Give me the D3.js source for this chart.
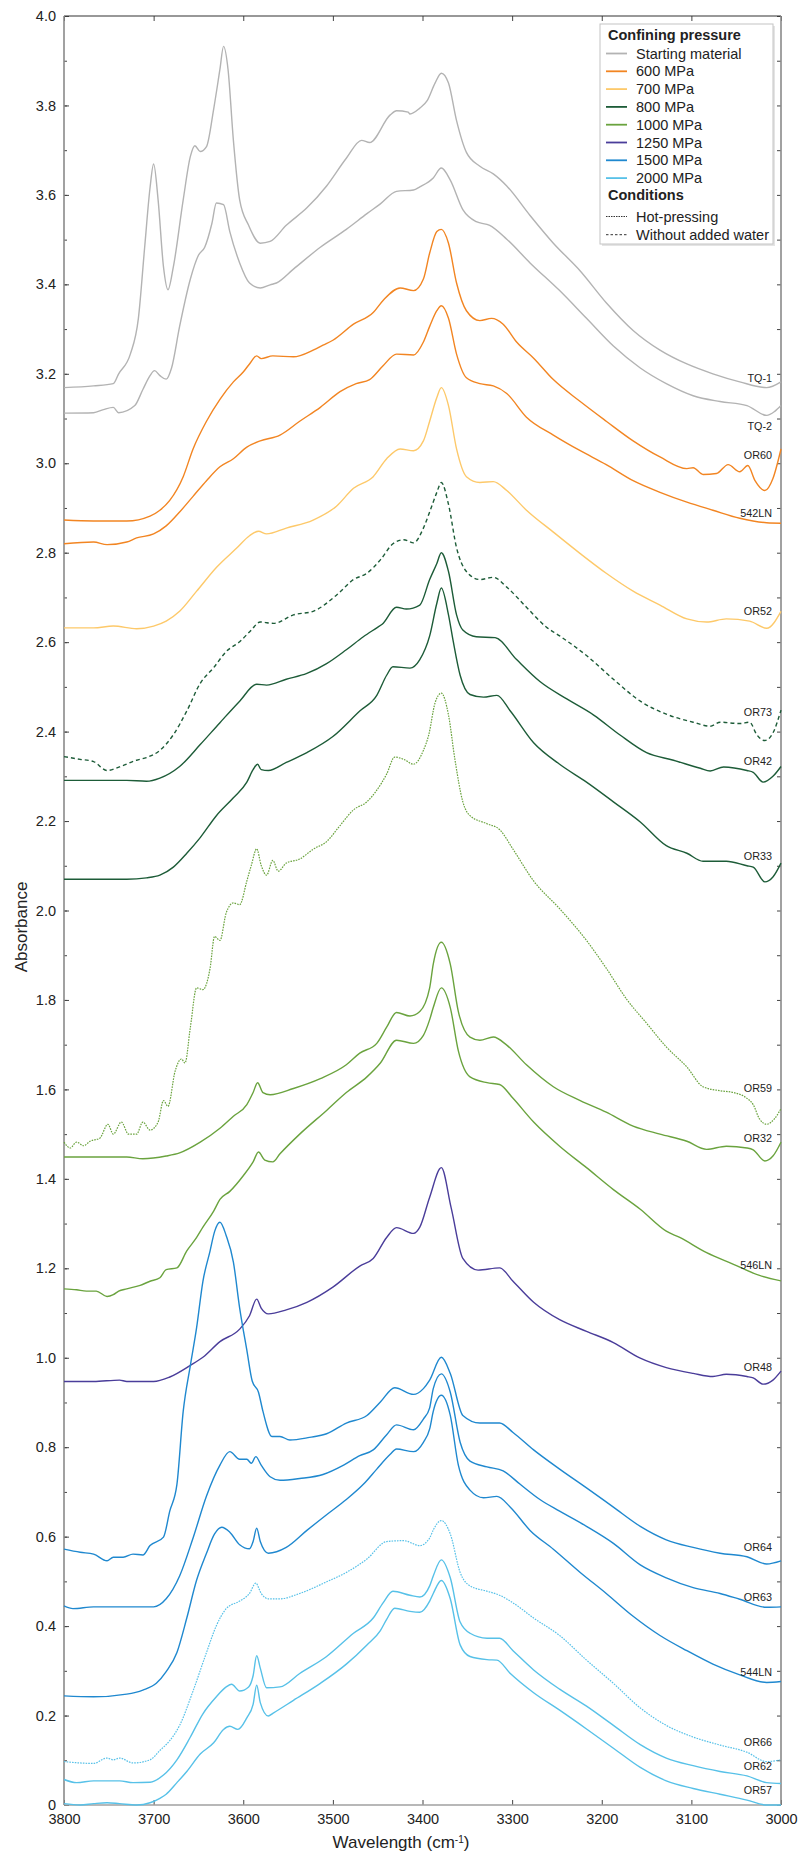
<!DOCTYPE html>
<html>
<head>
<meta charset="utf-8">
<script src="https://cdn.jsdelivr.net/npm/d3@7"></script>
<style>
  body { margin: 0; background: #fff; }
  svg { display: block; font-family: "Liberation Sans", Arial, sans-serif; }
</style>
</head>
<body>
<svg id="chart" width="802" height="1854"></svg>
<script>
// spectra as [wavenumber (cm-1), absorbance]
const tq1 = [[3800,3.169],[3767,3.173],[3745,3.178],[3739,3.200],[3726,3.244],[3717,3.324],[3710,3.483],[3704,3.616],[3700,3.669],[3695,3.589],[3689,3.439],[3684,3.388],[3678,3.439],[3667,3.589],[3659,3.686],[3654,3.710],[3648,3.697],[3641,3.708],[3633,3.792],[3626,3.881],[3622,3.932],[3617,3.881],[3611,3.722],[3604,3.589],[3594,3.532],[3581,3.492],[3570,3.496],[3552,3.532],[3529,3.571],[3507,3.620],[3485,3.682],[3468,3.722],[3459,3.717],[3436,3.779],[3429,3.788],[3416,3.785],[3414,3.781],[3403,3.794],[3395,3.810],[3386,3.850],[3379,3.872],[3371,3.850],[3362,3.766],[3351,3.695],[3336,3.664],[3321,3.647],[3306,3.620],[3280,3.554],[3254,3.492],[3224,3.430],[3195,3.359],[3165,3.297],[3135,3.253],[3105,3.222],[3076,3.200],[3046,3.182],[3016,3.169],[3000,3.182]];
const tq2 = [[3800,3.112],[3767,3.113],[3756,3.120],[3745,3.125],[3739,3.113],[3721,3.129],[3712,3.165],[3704,3.196],[3699,3.207],[3693,3.196],[3686,3.188],[3680,3.213],[3671,3.306],[3659,3.412],[3650,3.465],[3643,3.483],[3635,3.536],[3630,3.582],[3622,3.578],[3615,3.518],[3604,3.448],[3593,3.403],[3581,3.392],[3570,3.399],[3563,3.403],[3544,3.434],[3514,3.483],[3485,3.523],[3462,3.558],[3447,3.580],[3429,3.608],[3410,3.611],[3403,3.618],[3388,3.638],[3379,3.660],[3369,3.633],[3355,3.567],[3340,3.540],[3325,3.532],[3306,3.501],[3280,3.448],[3247,3.386],[3217,3.324],[3187,3.262],[3157,3.213],[3128,3.178],[3098,3.151],[3068,3.138],[3038,3.129],[3016,3.107],[3007,3.116],[3000,3.129]];
const or60 = [[3800,2.873],[3767,2.871],[3730,2.871],[3704,2.882],[3693,2.895],[3682,2.917],[3667,2.970],[3656,3.032],[3641,3.094],[3626,3.143],[3611,3.182],[3600,3.204],[3593,3.222],[3585,3.240],[3580,3.234],[3567,3.240],[3544,3.238],[3522,3.253],[3511,3.264],[3500,3.275],[3477,3.311],[3455,3.337],[3444,3.364],[3425,3.392],[3410,3.386],[3399,3.412],[3392,3.470],[3384,3.518],[3379,3.523],[3371,3.492],[3362,3.403],[3351,3.341],[3336,3.319],[3323,3.324],[3310,3.311],[3295,3.271],[3276,3.235],[3254,3.187],[3224,3.138],[3195,3.094],[3165,3.050],[3135,3.014],[3105,2.988],[3098,2.990],[3087,2.975],[3072,2.977],[3059,2.997],[3046,2.981],[3037,2.995],[3029,2.961],[3018,2.939],[3009,2.966],[3000,3.032]];
const ln542 = [[3800,2.820],[3767,2.824],[3752,2.818],[3730,2.824],[3719,2.833],[3700,2.842],[3686,2.860],[3671,2.891],[3656,2.926],[3641,2.961],[3626,2.992],[3611,3.010],[3596,3.036],[3581,3.050],[3559,3.063],[3537,3.094],[3514,3.125],[3492,3.160],[3474,3.178],[3459,3.187],[3444,3.218],[3429,3.244],[3410,3.242],[3399,3.271],[3392,3.306],[3384,3.341],[3379,3.352],[3371,3.324],[3362,3.244],[3351,3.191],[3336,3.178],[3321,3.173],[3306,3.156],[3284,3.103],[3254,3.063],[3224,3.028],[3195,2.997],[3165,2.961],[3135,2.935],[3105,2.913],[3076,2.895],[3046,2.877],[3016,2.867],[3000,2.866]];
const or52 = [[3800,2.632],[3767,2.632],[3745,2.636],[3719,2.630],[3700,2.636],[3686,2.647],[3671,2.669],[3652,2.714],[3630,2.767],[3607,2.811],[3593,2.838],[3583,2.848],[3574,2.842],[3552,2.855],[3522,2.873],[3496,2.904],[3477,2.944],[3455,2.970],[3440,3.010],[3425,3.032],[3410,3.028],[3399,3.050],[3392,3.094],[3384,3.147],[3379,3.169],[3371,3.129],[3362,3.032],[3351,2.970],[3336,2.957],[3321,2.959],[3306,2.939],[3284,2.895],[3254,2.846],[3224,2.798],[3195,2.754],[3165,2.714],[3135,2.683],[3105,2.652],[3083,2.645],[3061,2.652],[3035,2.647],[3016,2.631],[3000,2.669]];
const or73 = [[3800,2.344],[3782,2.338],[3767,2.333],[3752,2.313],[3738,2.321],[3719,2.336],[3708,2.342],[3693,2.358],[3678,2.393],[3663,2.446],[3648,2.508],[3633,2.543],[3619,2.579],[3604,2.601],[3592,2.625],[3581,2.645],[3566,2.642],[3544,2.661],[3522,2.669],[3496,2.705],[3477,2.740],[3462,2.754],[3447,2.784],[3433,2.820],[3421,2.829],[3410,2.822],[3399,2.855],[3392,2.891],[3384,2.935],[3379,2.957],[3371,2.908],[3362,2.811],[3351,2.758],[3336,2.740],[3321,2.745],[3306,2.723],[3284,2.678],[3262,2.634],[3247,2.614],[3217,2.570],[3187,2.517],[3157,2.468],[3128,2.439],[3098,2.421],[3079,2.412],[3068,2.421],[3046,2.418],[3035,2.421],[3027,2.393],[3018,2.380],[3009,2.397],[3000,2.448]];
const or42 = [[3800,2.291],[3767,2.291],[3730,2.291],[3708,2.289],[3693,2.296],[3671,2.322],[3648,2.371],[3626,2.420],[3604,2.468],[3585,2.506],[3574,2.504],[3552,2.517],[3529,2.530],[3507,2.552],[3485,2.583],[3466,2.612],[3451,2.632],[3445,2.640],[3429,2.678],[3418,2.674],[3403,2.683],[3392,2.740],[3384,2.776],[3379,2.800],[3371,2.758],[3362,2.661],[3355,2.627],[3340,2.612],[3319,2.610],[3295,2.561],[3269,2.512],[3239,2.473],[3209,2.437],[3180,2.393],[3150,2.353],[3120,2.336],[3090,2.318],[3079,2.312],[3064,2.321],[3038,2.313],[3031,2.309],[3020,2.287],[3009,2.300],[3000,2.322]];
const or33 = [[3800,2.070],[3767,2.070],[3730,2.070],[3708,2.073],[3693,2.079],[3678,2.097],[3663,2.128],[3648,2.163],[3630,2.212],[3611,2.252],[3596,2.287],[3589,2.315],[3584,2.327],[3580,2.315],[3572,2.313],[3552,2.331],[3529,2.353],[3500,2.389],[3470,2.446],[3451,2.481],[3440,2.526],[3433,2.545],[3414,2.542],[3403,2.561],[3392,2.614],[3384,2.687],[3379,2.721],[3371,2.661],[3366,2.605],[3358,2.526],[3347,2.483],[3332,2.477],[3317,2.481],[3302,2.446],[3276,2.375],[3247,2.327],[3217,2.287],[3187,2.243],[3157,2.198],[3128,2.145],[3105,2.128],[3087,2.110],[3061,2.110],[3038,2.100],[3031,2.097],[3018,2.064],[3009,2.075],[3000,2.106]];
const or59 = [[3800,1.482],[3793,1.469],[3786,1.482],[3778,1.474],[3771,1.484],[3760,1.491],[3751,1.522],[3745,1.500],[3736,1.527],[3728,1.500],[3719,1.500],[3712,1.527],[3704,1.509],[3695,1.527],[3689,1.575],[3684,1.562],[3676,1.641],[3669,1.668],[3665,1.659],[3659,1.739],[3652,1.827],[3645,1.823],[3637,1.871],[3632,1.942],[3626,1.933],[3619,1.995],[3611,2.017],[3604,2.013],[3596,2.066],[3591,2.101],[3585,2.138],[3580,2.101],[3574,2.079],[3567,2.112],[3561,2.088],[3552,2.106],[3537,2.115],[3522,2.137],[3507,2.154],[3492,2.190],[3477,2.225],[3462,2.243],[3451,2.269],[3440,2.305],[3431,2.343],[3421,2.338],[3410,2.327],[3399,2.358],[3393,2.393],[3386,2.464],[3379,2.486],[3371,2.437],[3364,2.340],[3355,2.243],[3347,2.212],[3328,2.194],[3314,2.181],[3299,2.137],[3276,2.066],[3247,2.004],[3217,1.933],[3195,1.871],[3172,1.801],[3150,1.748],[3128,1.695],[3105,1.650],[3087,1.606],[3068,1.597],[3053,1.593],[3038,1.580],[3031,1.566],[3024,1.534],[3016,1.522],[3007,1.535],[3000,1.557]];
const or32 = [[3800,1.449],[3767,1.449],[3730,1.449],[3712,1.445],[3686,1.451],[3671,1.458],[3648,1.482],[3626,1.513],[3611,1.540],[3596,1.566],[3589,1.593],[3584,1.615],[3578,1.593],[3570,1.588],[3544,1.602],[3514,1.624],[3485,1.655],[3470,1.681],[3451,1.703],[3440,1.739],[3429,1.772],[3414,1.764],[3403,1.774],[3392,1.827],[3388,1.880],[3379,1.929],[3369,1.880],[3360,1.774],[3347,1.717],[3336,1.710],[3321,1.717],[3306,1.699],[3284,1.655],[3254,1.606],[3224,1.575],[3195,1.549],[3165,1.518],[3135,1.500],[3105,1.484],[3083,1.466],[3061,1.473],[3038,1.469],[3031,1.465],[3018,1.440],[3009,1.451],[3000,1.482]];
const ln546 = [[3800,1.154],[3786,1.152],[3775,1.149],[3764,1.149],[3752,1.137],[3745,1.141],[3739,1.149],[3730,1.154],[3715,1.162],[3704,1.171],[3693,1.179],[3686,1.197],[3674,1.201],[3663,1.239],[3652,1.269],[3645,1.292],[3633,1.328],[3626,1.354],[3615,1.372],[3600,1.407],[3589,1.438],[3583,1.460],[3576,1.442],[3567,1.438],[3559,1.456],[3537,1.500],[3507,1.553],[3485,1.593],[3462,1.628],[3447,1.659],[3429,1.710],[3410,1.703],[3399,1.721],[3392,1.756],[3388,1.783],[3379,1.827],[3369,1.783],[3360,1.686],[3347,1.628],[3328,1.615],[3314,1.611],[3299,1.580],[3276,1.527],[3247,1.473],[3217,1.425],[3187,1.376],[3157,1.332],[3128,1.283],[3113,1.269],[3083,1.235],[3053,1.209],[3024,1.184],[3000,1.172]];
const or48 = [[3800,0.947],[3767,0.947],[3738,0.950],[3730,0.947],[3700,0.947],[3682,0.957],[3659,0.983],[3645,1.001],[3626,1.036],[3604,1.064],[3593,1.094],[3585,1.131],[3580,1.111],[3572,1.098],[3552,1.107],[3529,1.124],[3500,1.158],[3470,1.205],[3455,1.222],[3440,1.269],[3429,1.291],[3410,1.278],[3403,1.292],[3392,1.359],[3379,1.425],[3368,1.335],[3355,1.222],[3338,1.196],[3314,1.201],[3299,1.171],[3276,1.124],[3247,1.085],[3217,1.059],[3187,1.034],[3157,0.999],[3128,0.978],[3098,0.965],[3076,0.958],[3061,0.963],[3038,0.958],[3031,0.955],[3020,0.941],[3009,0.950],[3000,0.970]];
const or64 = [[3800,0.572],[3782,0.565],[3767,0.561],[3752,0.546],[3745,0.554],[3734,0.554],[3723,0.561],[3712,0.559],[3704,0.580],[3689,0.599],[3682,0.657],[3674,0.717],[3667,0.880],[3659,0.983],[3652,1.068],[3645,1.171],[3637,1.239],[3632,1.282],[3626,1.303],[3619,1.273],[3611,1.214],[3604,1.111],[3596,1.017],[3590,0.948],[3583,0.923],[3578,0.880],[3568,0.824],[3559,0.824],[3548,0.816],[3526,0.822],[3507,0.830],[3485,0.854],[3462,0.871],[3447,0.901],[3431,0.933],[3410,0.918],[3399,0.931],[3392,0.950],[3379,1.001],[3369,0.965],[3355,0.871],[3336,0.854],[3314,0.854],[3299,0.833],[3276,0.794],[3247,0.751],[3217,0.709],[3187,0.666],[3157,0.623],[3128,0.593],[3098,0.576],[3068,0.563],[3038,0.555],[3016,0.539],[3000,0.546]];
const or63 = [[3800,0.445],[3790,0.439],[3767,0.443],[3730,0.443],[3700,0.443],[3686,0.461],[3671,0.512],[3656,0.597],[3641,0.691],[3626,0.760],[3615,0.790],[3604,0.773],[3596,0.773],[3591,0.764],[3586,0.779],[3580,0.760],[3570,0.734],[3559,0.726],[3537,0.730],[3511,0.739],[3488,0.760],[3470,0.781],[3455,0.794],[3440,0.828],[3429,0.850],[3410,0.839],[3399,0.863],[3392,0.888],[3388,0.931],[3379,0.964],[3369,0.923],[3358,0.811],[3347,0.769],[3328,0.756],[3310,0.747],[3291,0.717],[3269,0.683],[3247,0.657],[3217,0.623],[3187,0.585],[3157,0.537],[3128,0.508],[3098,0.486],[3068,0.473],[3046,0.460],[3016,0.442],[3000,0.443]];
const ln544 = [[3800,0.244],[3767,0.242],[3730,0.248],[3712,0.257],[3697,0.272],[3686,0.298],[3674,0.341],[3663,0.418],[3652,0.503],[3641,0.563],[3632,0.606],[3624,0.621],[3615,0.610],[3604,0.582],[3593,0.573],[3589,0.589],[3585,0.619],[3581,0.589],[3572,0.563],[3552,0.576],[3529,0.614],[3507,0.649],[3485,0.683],[3466,0.717],[3451,0.751],[3436,0.784],[3429,0.796],[3410,0.790],[3399,0.811],[3392,0.841],[3388,0.880],[3379,0.916],[3369,0.871],[3360,0.760],[3347,0.704],[3332,0.687],[3317,0.690],[3302,0.666],[3280,0.614],[3254,0.572],[3224,0.520],[3195,0.473],[3165,0.422],[3135,0.379],[3105,0.345],[3076,0.315],[3046,0.291],[3016,0.274],[3000,0.276]];
const or66 = [[3800,0.097],[3782,0.094],[3767,0.093],[3752,0.105],[3745,0.101],[3738,0.105],[3723,0.094],[3704,0.101],[3693,0.122],[3682,0.144],[3671,0.178],[3656,0.255],[3641,0.341],[3630,0.401],[3619,0.439],[3604,0.456],[3593,0.473],[3586,0.496],[3580,0.473],[3572,0.461],[3559,0.461],[3537,0.473],[3507,0.499],[3485,0.520],[3462,0.550],[3440,0.589],[3421,0.591],[3403,0.580],[3392,0.597],[3388,0.615],[3379,0.636],[3369,0.606],[3358,0.520],[3347,0.490],[3328,0.478],[3314,0.469],[3299,0.452],[3276,0.418],[3247,0.379],[3217,0.324],[3187,0.272],[3157,0.217],[3128,0.178],[3098,0.152],[3068,0.134],[3038,0.118],[3016,0.097],[3000,0.101]];
const or62 = [[3800,0.057],[3786,0.050],[3767,0.054],[3738,0.054],[3723,0.050],[3704,0.051],[3689,0.067],[3674,0.101],[3659,0.152],[3645,0.204],[3630,0.242],[3619,0.264],[3613,0.270],[3604,0.255],[3594,0.264],[3589,0.289],[3585,0.334],[3581,0.306],[3574,0.262],[3559,0.264],[3537,0.294],[3507,0.332],[3477,0.384],[3455,0.418],[3444,0.452],[3433,0.478],[3414,0.469],[3403,0.465],[3392,0.490],[3388,0.512],[3379,0.548],[3369,0.508],[3358,0.409],[3347,0.384],[3328,0.373],[3314,0.373],[3299,0.345],[3276,0.302],[3247,0.259],[3217,0.221],[3187,0.178],[3157,0.135],[3128,0.105],[3098,0.088],[3068,0.075],[3038,0.065],[3016,0.050],[3000,0.048]];
const or57 = [[3800,0.003],[3782,0.000],[3767,0.003],[3752,0.005],[3738,0.003],[3719,0.000],[3704,0.005],[3693,0.015],[3686,0.024],[3674,0.050],[3663,0.075],[3648,0.114],[3633,0.139],[3622,0.169],[3615,0.176],[3606,0.169],[3596,0.195],[3589,0.225],[3585,0.268],[3581,0.229],[3572,0.199],[3567,0.205],[3544,0.234],[3514,0.272],[3485,0.315],[3462,0.358],[3447,0.390],[3440,0.415],[3431,0.440],[3414,0.433],[3403,0.431],[3392,0.456],[3388,0.473],[3379,0.502],[3369,0.461],[3358,0.358],[3347,0.332],[3328,0.325],[3317,0.324],[3302,0.294],[3276,0.251],[3247,0.212],[3217,0.170],[3187,0.127],[3157,0.084],[3128,0.054],[3098,0.037],[3068,0.024],[3038,0.011],[3016,0.000],[3000,0.000]];

// sample metadata
const sampleNames = ["TQ-1","TQ-2","OR60","542LN","OR52","OR73","OR42","OR33","OR59","OR32","546LN","OR48","OR64","OR63","544LN","OR66","OR62","OR57"];
const samplePressure = ["Starting material","Starting material","600 MPa","600 MPa","700 MPa","800 MPa","800 MPa","800 MPa","1000 MPa","1000 MPa","1000 MPa","1250 MPa","1500 MPa","1500 MPa","1500 MPa","2000 MPa","2000 MPa","2000 MPa"];
const sampleCondition = ["","","","","","Without added water","","","Hot-pressing","","","","","","","Hot-pressing","",""];
const sampleSpectra = [tq1, tq2, or60, ln542, or52, or73, or42, or33, or59, or32, ln546, or48, or64, or63, ln544, or66, or62, or57];
const labelsBelow = ["TQ-2"];

// legend + axis labels
const pressureLevels = ["Starting material","600 MPa","700 MPa","800 MPa","1000 MPa","1250 MPa","1500 MPa","2000 MPa"];
const conditionLevels = ["Hot-pressing","Without added water"];
const xTicks = [3800, 3700, 3600, 3500, 3400, 3300, 3200, 3100, 3000];
const yTicks = [0, 0.2, 0.4, 0.6, 0.8, 1.0, 1.2, 1.4, 1.6, 1.8, 2.0, 2.2, 2.4, 2.6, 2.8, 3.0, 3.2, 3.4, 3.6, 3.8, 4.0];

const pressureColor = d3.scaleOrdinal()
    .domain(pressureLevels)
    .range(["#b3b3b3", "#f28522", "#fdc96a", "#1d5c38", "#6aa33e", "#4a3d9a", "#1f88cf", "#57c1e8"]);
const conditionDash = d3.scaleOrdinal()
    .domain(["", "Hot-pressing", "Without added water"])
    .range([null, "1.6,1.1", "4,3"]);

const svg = d3.select('#chart');
const margin = { top: 16, right: 21, bottom: 49, left: 64 };
const width = +svg.attr('width');
const height = +svg.attr('height');

const x = d3.scaleLinear().domain([3800, 3000]).range([margin.left, width - margin.right]);
const y = d3.scaleLinear().domain([0, 4]).range([height - margin.bottom, margin.top]);

const minorY = d3.range(0, 41).map(i => i / 10);

// axes, ticks pointing inward
const axisArea = svg.append('g').attr('class', 'axes');

function styleAxis(g) {
    g.select('.domain').remove();
    g.selectAll('.tick line').attr('stroke', '#444').attr('stroke-width', 1);
    g.selectAll('.tick text').attr('fill', '#222').style('font-size', '14.5px');
}

axisArea.append('g')
    .attr('transform', `translate(${margin.left},0)`)
    .call(d3.axisLeft(y).tickValues(minorY).tickFormat('').tickSizeInner(-3).tickSizeOuter(0))
    .call(styleAxis);
axisArea.append('g')
    .attr('transform', `translate(${margin.left},0)`)
    .call(d3.axisLeft(y).tickValues(yTicks).tickFormat(d => d === 0 ? '0' : d3.format('.1f')(d)).tickSizeInner(-5).tickSizeOuter(0).tickPadding(8))
    .call(styleAxis);
axisArea.append('g')
    .attr('transform', `translate(${width - margin.right},0)`)
    .call(d3.axisRight(y).tickValues(minorY).tickFormat('').tickSizeInner(-4).tickSizeOuter(0))
    .call(styleAxis);
axisArea.append('g')
    .attr('transform', `translate(0,${height - margin.bottom})`)
    .call(d3.axisBottom(x).tickValues(xTicks).tickFormat(d3.format('d')).tickSizeInner(-5).tickSizeOuter(0).tickPadding(9))
    .call(styleAxis);
axisArea.append('g')
    .attr('transform', `translate(0,${margin.top})`)
    .call(d3.axisTop(x).tickValues(xTicks).tickFormat('').tickSizeInner(-5).tickSizeOuter(0))
    .call(styleAxis);

// frame
const x0 = x(3800), x1 = x(3000), y0 = y(0), y1 = y(4);
axisArea.append('line').attr('x1', x0).attr('x2', x1).attr('y1', y1).attr('y2', y1).attr('stroke', '#333').attr('stroke-width', 1.2);
axisArea.append('line').attr('x1', x0).attr('x2', x0).attr('y1', y1).attr('y2', y0).attr('stroke', '#8a8a8a').attr('stroke-width', 1.6);
axisArea.append('line').attr('x1', x1).attr('x2', x1).attr('y1', y1).attr('y2', y0).attr('stroke', '#8a8a8a').attr('stroke-width', 1.6);
axisArea.append('line').attr('x1', x0).attr('x2', x1).attr('y1', y0).attr('y2', y0).attr('stroke', '#a0a0a0').attr('stroke-width', 1.6);

// axis titles
svg.append('text')
    .attr('x', width / 2).attr('y', height - 6)
    .attr('text-anchor', 'middle').attr('fill', '#222')
    .style('font-size', '17px')
    .text('Wavelength (cm')
    .append('tspan').attr('baseline-shift', 'super').style('font-size', '10px').text('-1')
    .select(function () { return this.parentNode; })
    .append('tspan').text(')');

svg.append('text')
    .attr('transform', `translate(21,${height / 2}) rotate(-90)`)
    .attr('text-anchor', 'middle').attr('dominant-baseline', 'central').attr('fill', '#222')
    .style('font-size', '17px')
    .text('Absorbance');

// spectra
const line = d3.line()
    .x(d => x(d[0]))
    .y(d => y(d[1]))
    .curve(d3.curveMonotoneX);

const spectra = sampleNames.map((name, i) => ({
    name: name,
    pressure: samplePressure[i],
    condition: sampleCondition[i],
    values: sampleSpectra[i]
}));

const chartArea = svg.append('g').attr('class', 'chart');

chartArea.selectAll('path.spectrum').data(spectra)
    .join('path')
    .attr('class', 'spectrum')
    .attr('d', d => line(d.values))
    .attr('fill', 'none')
    .attr('stroke', d => pressureColor(d.pressure))
    .attr('stroke-width', d => d.condition === 'Hot-pressing' ? 1.2 : 1.4)
    .attr('stroke-dasharray', d => conditionDash(d.condition))
    .attr('stroke-linejoin', 'round');

// sample labels, sitting just above (or below) the right-hand end of each curve
chartArea.selectAll('text.sample').data(spectra)
    .join('text')
    .attr('class', 'sample')
    .attr('x', x(3010))
    .attr('y', d => {
        const tail = d.values.filter(p => p[0] <= 3045 && p[0] >= 3010);
        if (labelsBelow.includes(d.name)) {
            return y(d3.min(tail, p => p[1])) + 15;
        }
        return y(d3.max(tail, p => p[1])) - 6;
    })
    .attr('text-anchor', 'end')
    .attr('fill', '#222')
    .style('font-size', '10.8px')
    .text(d => d.name);

// legend
const legend = svg.append('g').attr('class', 'legend').attr('transform', 'translate(600,24)');
legend.append('rect').attr('x', 2).attr('y', 2).attr('width', 173).attr('height', 220).attr('fill', '#e4e4e4');
legend.append('rect').attr('width', 173).attr('height', 220).attr('fill', '#fff').attr('stroke', '#c4c4c4');

legend.append('text').attr('x', 8).attr('y', 16)
    .style('font-size', '14.5px').style('font-weight', 'bold').attr('fill', '#222')
    .text('Confining pressure');

const pressureRows = legend.selectAll('g.pressure').data(pressureLevels)
    .join('g')
    .attr('class', 'pressure')
    .attr('transform', (d, i) => `translate(0,${29.5 + i * 17.8})`);
pressureRows.append('line').attr('x1', 6).attr('x2', 27)
    .attr('stroke', d => pressureColor(d)).attr('stroke-width', 1.8);
pressureRows.append('text').attr('x', 36).attr('y', 5)
    .style('font-size', '14.5px').attr('fill', '#222')
    .text(d => d);

legend.append('text').attr('x', 8).attr('y', 176)
    .style('font-size', '14.5px').style('font-weight', 'bold').attr('fill', '#222')
    .text('Conditions');

const conditionRows = legend.selectAll('g.condition').data(conditionLevels)
    .join('g')
    .attr('class', 'condition')
    .attr('transform', (d, i) => `translate(0,${192.5 + i * 18.2})`);
conditionRows.append('line').attr('x1', 6).attr('x2', 27)
    .attr('stroke', '#333').attr('stroke-width', 1)
    .attr('stroke-dasharray', d => d === 'Hot-pressing' ? '1.5,1' : '2.5,2');
conditionRows.append('text').attr('x', 36).attr('y', 5)
    .style('font-size', '14.5px').attr('fill', '#222')
    .text(d => d);
</script>
</body>
</html>
